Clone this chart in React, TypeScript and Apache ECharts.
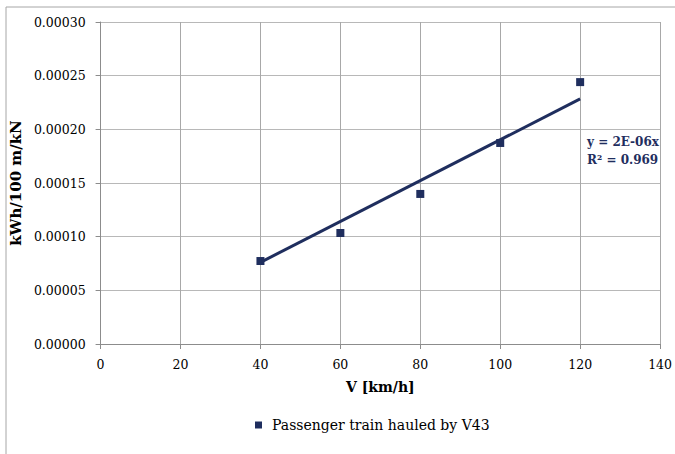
import React, { useEffect, useRef } from "react";
import * as echarts from "echarts";

const speeds = [40, 60, 80, 100, 120];
const energy = [0.0000773, 0.0001034, 0.0001398, 0.0001873, 0.000244];
const xTicks = [0, 20, 40, 60, 80, 100, 120, 140];
const seriesName = "Passenger train hauled by V43";
const trendLabel = ["y = 2E-06x", "R² = 0.969"];

export default function App() {
  const ref = useRef<HTMLDivElement>(null);
  useEffect(() => {
    if (!ref.current) return;
    const chart = echarts.init(ref.current, undefined, { renderer: "svg" });
    let sxy = 0, sxx = 0;
    speeds.forEach((x, i) => { sxy += x * energy[i]; sxx += x * x; });
    const slope = sxy / sxx;
    const xMin = Math.min(...speeds), xMax = Math.max(...speeds);
    const font = "DejaVu Serif";
    const navy = "#1F2E5E";
    chart.setOption({
      animation: false,
      backgroundColor: "#fff",
      textStyle: { fontFamily: font },
      grid: { left: 96, top: 22, right: 14, bottom: 110 },
      xAxis: {
        type: "value",
        min: xTicks[0],
        max: xTicks[xTicks.length - 1],
        interval: 20,
        name: "V [km/h]",
        nameLocation: "middle",
        nameGap: 36,
        nameTextStyle: { fontFamily: font, fontSize: 14, fontWeight: "bold", color: "#000" },
        axisLine: { lineStyle: { color: "#8c8c8c", width: 1 } },
        axisTick: { show: true, length: 5, lineStyle: { color: "#8c8c8c" } },
        axisLabel: { fontFamily: font, fontSize: 12.5, color: "#000", margin: 14 },
        splitLine: { show: true, lineStyle: { color: "#a8a8a8", width: 1 } },
      },
      yAxis: {
        type: "value",
        min: 0,
        max: 0.0003,
        interval: 0.00005,
        name: "kWh/100 m/kN",
        nameLocation: "middle",
        nameGap: 72,
        nameTextStyle: { fontFamily: font, fontSize: 15, fontWeight: "bold", color: "#000" },
        axisLine: { show: true, lineStyle: { color: "#8c8c8c", width: 1 } },
        axisTick: { show: true, length: 5, lineStyle: { color: "#8c8c8c" } },
        axisLabel: {
          fontFamily: font, fontSize: 12.5, color: "#000", margin: 15,
          formatter: (v: number) => v.toFixed(5),
        },
        splitLine: { show: true, lineStyle: { color: "#b8b8b8", width: 1 } },
      },
      legend: {
        left: 250,
        top: 413,
        icon: "rect",
        itemWidth: 7,
        itemHeight: 7,
        textStyle: { fontFamily: font, fontSize: 14, color: "#000", padding: [0, 0, 0, 5] },
        data: [seriesName],
      },
      series: [
        {
          name: seriesName,
          type: "scatter",
          symbol: "rect",
          symbolSize: 8,
          itemStyle: { color: navy, opacity: 1 },
          data: speeds.map((x, i) => [x, energy[i]]),
          z: 3,
        },
        {
          name: "trend",
          type: "line",
          symbol: "none",
          lineStyle: { color: navy, width: 3 },
          data: [[xMin, slope * xMin], [xMax, slope * xMax]],
          z: 2,
        },
      ],
      graphic: [
        {
          type: "rect",
          shape: { x: 6, y: 7, width: 720, height: 500 },
          style: { fill: "none", stroke: "#a6a6a6", lineWidth: 1 },
          silent: true,
        },
        {
          type: "text",
          x: 587,
          y: 142,
          style: { text: trendLabel[0], font: `bold 12px ${font}`, fill: navy, verticalAlign: "middle" },
        },
        {
          type: "text",
          x: 587,
          y: 160,
          style: { text: trendLabel[1], font: `bold 12px ${font}`, fill: navy, verticalAlign: "middle" },
        },
      ],
    });
    return () => chart.dispose();
  }, []);
  return <div ref={ref} style={{ width: 675, height: 454, position: "absolute", left: 0, top: 0 }} />;
}
